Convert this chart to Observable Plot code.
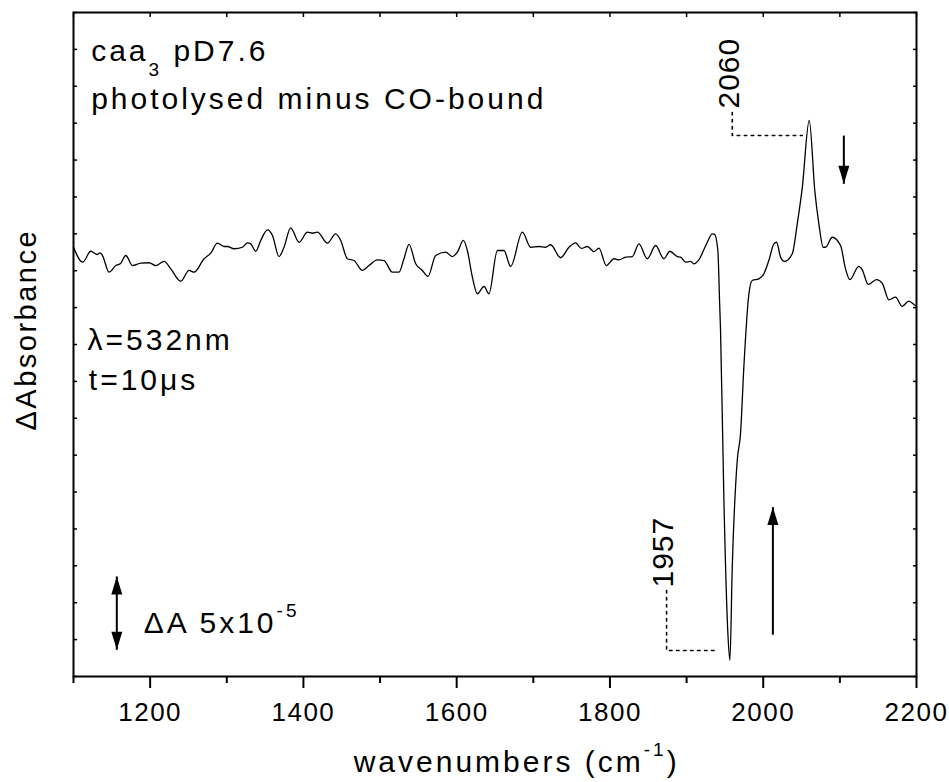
<!DOCTYPE html>
<html>
<head>
<meta charset="utf-8">
<script src="https://cdn.jsdelivr.net/npm/d3@7"></script>
<script src="https://cdn.jsdelivr.net/npm/@observablehq/plot@0.6"></script>
<style>
  body { margin: 0; background: #fff; }
  #chart svg { font-family: "Liberation Sans", Arial, sans-serif; }
  #chart g[aria-label="x-axis tick label"] text { letter-spacing: 1.5px; }
</style>
</head>
<body>
<div id="chart"></div>
<script>
// ---- spectrum (wavenumber in cm^-1, ΔA in units of 1e-5) ----
const wavenumber = [
  1100, 1112, 1122.6, 1130.4, 1134.7, 1137.8, 1146.4, 1155.2, 1161.7, 1168.2,
  1177, 1187.7, 1198.6, 1207.4, 1218.2, 1226.9, 1240, 1250.8, 1257.3, 1270.4,
  1279.1, 1287.8, 1296.4, 1300.9, 1309.5, 1320.4, 1327, 1331.3, 1337.8, 1344.3,
  1353.1, 1359.6, 1368.2, 1374.7, 1383.4, 1394.3, 1405.2, 1411.8, 1418.3, 1431.3,
  1442.1, 1448.7, 1457.4, 1466, 1477, 1485.6, 1496.5, 1505.2, 1516.1, 1524.7,
  1531.2, 1537.8, 1546.5, 1555.2, 1562.5, 1572.6, 1585.6, 1594.4, 1600.9, 1608.7,
  1613.9, 1620.5, 1627, 1635.6, 1642.1, 1653.1, 1661.7, 1670.4, 1685.7, 1696.5,
  1707.3, 1716.1, 1722.6, 1735.6, 1746.5, 1755.2, 1762.6, 1770.5, 1779.1, 1785.6,
  1795.3, 1805.2, 1811.7, 1820.4, 1829.2, 1837.8, 1848.7, 1859.6, 1870.4, 1878.2,
  1887.9, 1892.2, 1898.7, 1905.2, 1909.5, 1916, 1927, 1933.5, 1936.5, 1940.8,
  1943, 1944.3, 1948.7, 1953.9, 1956.5, 1959.6, 1966.1, 1970.4, 1974.7, 1981.3,
  1985.7, 1994.3, 2000.8, 2007.3, 2013.9, 2017.4, 2022.6, 2027.8, 2037.9, 2044.4,
  2050.9, 2060, 2067.5, 2072.6, 2078.3, 2081.3, 2090.1, 2100.9, 2107.4, 2113,
  2124.7, 2129.2, 2137, 2147.8, 2155.3, 2163.9, 2172.6, 2181.3, 2189.9, 2198.7,
  2200
];
const deltaA = [
  -0.91, -1.92, -1.18, -1.40, -1.29, -1.47, -2.60, -2.15, -1.99, -1.47,
  -2.15, -1.99, -1.96, -2.15, -1.87, -2.37, -3.21, -2.48, -2.60, -1.69,
  -1.31, -0.63, -0.86, -0.86, -1.01, -0.91, -0.61, -0.68, -1.18, -0.45,
  0.27, -0.11, -1.54, -0.91, 0.41, -0.57, 0.11, 0.04, 0.11, -0.63,
  0.00, -0.45, -1.69, -1.81, -2.48, -2.15, -1.76, -1.81, -2.60, -2.60,
  -1.69, -0.72, -2.03, -2.48, -2.89, -1.47, -1.24, -1.54, -1.24, -0.45,
  -1.13, -2.94, -4.06, -3.57, -4.06, -1.13, -1.13, -2.21, 0.11, -0.91,
  -0.86, -0.91, -0.74, -1.62, -0.91, -0.61, -0.99, -0.86, -1.20, -0.97,
  -2.15, -1.69, -1.76, -1.58, -1.54, -0.68, -1.69, -0.79, -1.69, -1.18,
  -1.54, -1.58, -1.92, -1.87, -2.03, -1.76, -0.57, 0.00, -0.04, -1.13,
  -4.52, -6.55, -18.07, -27.1, -28.9, -22.59, -15.36, -13.53, -9.04, -4.06,
  -3.16, -3.05, -2.71, -1.81, -0.68, -0.57, -1.58, -1.87, -1.35, 0.68,
  3.1, 7.68, 2.8, 0.68, -0.91, -0.91, -0.23, -0.79, -2.37, -3.11,
  -2.21, -2.44, -3.43, -3.11, -3.35, -4.47, -4.29, -4.92, -4.56, -4.86,
  -4.9
];

// ---- axis ticks ----
const xTickMajor = [1200, 1400, 1600, 1800, 2000, 2200];
const xTickMinor = [1100, 1300, 1500, 1700, 1900, 2100];
const xTickTop = [1100, 1200, 1300, 1400, 1500, 1600, 1700, 1800, 1900, 2000, 2100, 2200];
const yTicks = [-30, -27.5, -25, -22.5, -20, -17.5, -15, -12.5, -10, -7.5, -5, -2.5, 0, 2.5, 5, 7.5, 10, 12.5, 15];

// ---- texts ----
const noteTexts = ["caa_{3} pD7.6", "photolysed minus CO-bound", "λ=532nm", "t=10μs", "ΔA 5x10^{-5}"];
const peakNames = ["2060", "1957"];
const xTitle = "wavenumbers (cm^{-1})";
const yTitle = "ΔAbsorbance";

// ---- annotation layout (data coordinates) ----
const notes = [
  {text: noteTexts[0], x: 1123, y: 11.68},
  {text: noteTexts[1], x: 1123, y: 8.49},
  {text: noteTexts[2], x: 1118.3, y: -7.86},
  {text: noteTexts[3], x: 1120, y: -10.57},
  {text: noteTexts[4], x: 1191.7, y: -27.02}
];
const peakLabels = [
  {text: peakNames[0], x: 1967.8, y: 8.49},
  {text: peakNames[1], x: 1881.7, y: -23.97}
];
const leaders = [
  {k: "a", x: 1959.6, y: 8.22}, {k: "a", x: 1959.6, y: 6.66}, {k: "a", x: 2050.9, y: 6.66},
  {k: "b", x: 1873.9, y: -24.17}, {k: "b", x: 1873.9, y: -28.24}, {k: "b", x: 1940.0, y: -28.24}
];
const shafts = [
  {x: 2105.2, y1: 6.66, y2: 3.39},
  {x: 2012.6, y1: -27.17, y2: -18.52},
  {x: 1156.5, y1: -28.19, y2: -23.22}
];
const headsDown = [{x: 2105.2, y: 3.39}, {x: 1156.5, y: -28.19}];
const headsUp = [{x: 2012.6, y: -18.52}, {x: 1156.5, y: -23.22}];

const headUp = {draw(c) { c.moveTo(0, 0); c.lineTo(-5.5, 18); c.lineTo(5.5, 18); c.closePath(); }};
const headDown = {draw(c) { c.moveTo(0, 0); c.lineTo(-5.5, -18); c.lineTo(5.5, -18); c.closePath(); }};

const spectrum = wavenumber.map((w, i) => ({w, a: deltaA[i]}));
const font = "Liberation Sans, Arial, sans-serif";

const plot = Plot.plot({
  width: 949,
  height: 782,
  marginLeft: 73,
  marginRight: 33,
  marginTop: 12,
  marginBottom: 106,
  style: {fontFamily: font, background: "white", color: "black", overflow: "visible"},
  x: {domain: [1100, 2200]},
  y: {domain: [-30, 15]},
  marks: [
    Plot.axisX({anchor: "bottom", ticks: xTickMajor, tickSize: 12, tickPadding: 14, strokeWidth: 2,
      fontSize: 26, tickFormat: d => String(d), label: null}),
    Plot.axisX({anchor: "bottom", ticks: xTickMinor, tickSize: 7, strokeWidth: 2, tickFormat: () => "", label: null}),
    Plot.axisX({anchor: "top", ticks: xTickTop, tickSize: -4, strokeWidth: 1.5, tickFormat: () => "", label: null}),
    Plot.axisY({anchor: "left", ticks: yTicks, tickSize: -4, strokeWidth: 1.5, tickFormat: () => "", label: null}),
    Plot.axisY({anchor: "right", ticks: yTicks, tickSize: -4, strokeWidth: 1.5, tickFormat: () => "", label: null}),
    Plot.frame({stroke: "black", strokeWidth: 2}),
    Plot.line(spectrum, {x: "w", y: "a", stroke: "black", strokeWidth: 1.3, curve: "monotone-x"}),
    Plot.line(leaders, {x: "x", y: "y", z: "k", stroke: "black", strokeWidth: 1.6, strokeDasharray: "2.5,4.5"}),
    Plot.link(shafts, {x1: "x", x2: "x", y1: "y1", y2: "y2", stroke: "black", strokeWidth: 2}),
    Plot.dot(headsUp, {x: "x", y: "y", symbol: headUp, fill: "black", stroke: "none"}),
    Plot.dot(headsDown, {x: "x", y: "y", symbol: headDown, fill: "black", stroke: "none"}),
    Plot.text(notes, {x: "x", y: "y", text: "text", textAnchor: "start", lineAnchor: "bottom", fontSize: 30, fill: "black"}),
    Plot.text(peakLabels, {x: "x", y: "y", text: "text", textAnchor: "start", lineAnchor: "bottom", rotate: -90, fontSize: 30, fill: "black"}),
    Plot.text([{text: xTitle, x: 1465.6, y: -36.5}], {x: "x", y: "y", text: "text", textAnchor: "start", lineAnchor: "bottom", fontSize: 30, fill: "black"}),
    Plot.text([{text: yTitle, x: 1050.8, y: -13.33}], {x: "x", y: "y", text: "text", textAnchor: "start", lineAnchor: "bottom", rotate: -90, fontSize: 29, fill: "black"})
  ]
});

// letter spacing and sub/superscripts
const spacing = new Map([
  ...noteTexts.map(t => [t, 3]),
  ...peakNames.map(t => [t, 1]),
  [xTitle, 3],
  [yTitle, 2.5]
]);
const NS = "http://www.w3.org/2000/svg";
plot.querySelectorAll('g[aria-label="text"] text').forEach(t => {
  const s = t.textContent;
  if (spacing.has(s)) t.setAttribute("letter-spacing", spacing.get(s) + "px");
  if (!/[\^_]\{/.test(s)) return;
  const parts = s.split(/([\^_]\{[^}]*\})/).filter(p => p.length);
  t.textContent = "";
  let shift = 0;
  for (const p of parts) {
    const m = p.match(/^([\^_])\{([^}]*)\}$/);
    const ts = document.createElementNS(NS, "tspan");
    if (m) {
      const d = m[1] === "^" ? -16 : 15;
      ts.setAttribute("dy", d - shift);
      ts.setAttribute("font-size", "19");
      shift = d;
      ts.textContent = m[2];
    } else {
      if (shift) ts.setAttribute("dy", -shift);
      shift = 0;
      ts.textContent = p;
    }
    t.appendChild(ts);
  }
});

document.getElementById("chart").appendChild(plot);
</script>
</body>
</html>
